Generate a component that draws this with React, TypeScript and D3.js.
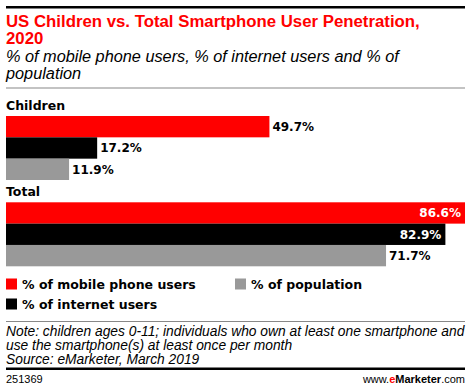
import * as d3 from "d3";

const categories = ["Children", "Total"];
const seriesNames = ["% of mobile phone users", "% of internet users", "% of population"];
const mobileUsers = [49.7, 86.6];
const internetUsers = [17.2, 82.9];
const population = [11.9, 71.7];
const seriesColors = ["#ff0000", "#000000", "#999999"];

const W = 471;
const H = 391;

export default function App() {
  const series = [mobileUsers, internetUsers, population];

  const x = d3.scaleLinear().domain([0, 86.6]).range([6, 465]);
  const groupY = d3.scaleBand().domain(categories).range([116, 116 + 86.3 * 2]);
  const barY = d3.scaleBand().domain(seriesNames).range([0, 64]);

  const fmt = (v: number) => `${d3.format(".1f")(v)}%`;
  const sans = "'Liberation Sans', Arial, sans-serif";
  const boldFont = "'DejaVu Sans', sans-serif";

  const legendPos = [
    { x: 6, y: 284 },
    { x: 6, y: 304 },
    { x: 235, y: 284 },
  ];

  return (
    <div style={{ position: "absolute", left: 0, top: 0 }}>
      <svg width={W} height={H} style={{ display: "block", background: "#fff" }}>
        <rect x={6} y={6} width={459} height={2.5} fill="#000" />
        <text x={6} y={26.5} fill="#ff0000" fontFamily={sans} fontWeight="bold" fontSize={16.8}>
          US Children vs. Total Smartphone User Penetration,
        </text>
        <text x={6} y={43.5} fill="#ff0000" fontFamily={sans} fontWeight="bold" fontSize={16.8}>
          2020
        </text>
        <text x={6} y={62} fill="#000" fontFamily={sans} fontStyle="italic" fontSize={16.3}>
          % of mobile phone users, % of internet users and % of
        </text>
        <text x={6} y={79} fill="#000" fontFamily={sans} fontStyle="italic" fontSize={16.3}>
          population
        </text>
        <rect x={6} y={87.5} width={459} height={1} fill="#888" />

        {categories.map((cat, ci) => {
          const gy = groupY(cat) ?? 0;
          return (
            <g key={cat}>
              <text x={6} y={gy - 6} fontFamily={boldFont} fontWeight="bold" fontSize={12.5} fill="#000">
                {cat}
              </text>
              {seriesNames.map((s, si) => {
                const v = series[si][ci];
                const by = gy + (barY(s) ?? 0);
                const bh = barY.bandwidth();
                const xEnd = x(v);
                const inside = xEnd > 420;
                return (
                  <g key={s}>
                    <rect x={x(0)} y={by} width={xEnd - x(0)} height={bh} fill={seriesColors[si]} />
                    <text
                      x={inside ? xEnd - 4 : xEnd + 3}
                      y={by + bh / 2}
                      dy="0.36em"
                      textAnchor={inside ? "end" : "start"}
                      fill={inside ? "#fff" : "#000"}
                      fontFamily={boldFont}
                      fontWeight="bold"
                      fontSize={12}
                    >
                      {fmt(v)}
                    </text>
                  </g>
                );
              })}
            </g>
          );
        })}

        {seriesNames.map((s, si) => (
          <g key={s} transform={`translate(${legendPos[si].x},${legendPos[si].y})`}>
            <rect x={0} y={-5.5} width={11} height={11} fill={seriesColors[si]} />
            <text x={16} y={0} dy="0.36em" fontFamily={boldFont} fontWeight="bold" fontSize={12.5} fill="#000">
              {s}
            </text>
          </g>
        ))}

        <rect x={6} y={321} width={459} height={1} fill="#888" />
        <text x={6} y={336} fontFamily={sans} fontStyle="italic" fontSize={13.8} fill="#000">
          Note: children ages 0-11; individuals who own at least one smartphone and
        </text>
        <text x={6} y={350} fontFamily={sans} fontStyle="italic" fontSize={13.8} fill="#000">
          use the smartphone(s) at least once per month
        </text>
        <text x={6} y={364} fontFamily={sans} fontStyle="italic" fontSize={13.8} fill="#000">
          Source: eMarketer, March 2019
        </text>
        <rect x={6} y={367.5} width={459} height={2.5} fill="#000" />
        <text x={6} y={383} fontFamily={sans} fontSize={11} fill="#000">
          251369
        </text>
        <text x={465} y={383} textAnchor="end" fontFamily={sans} fontSize={11} fill="#000">
          www.
          <tspan fill="#ff0000" fontWeight="bold">e</tspan>
          <tspan fontWeight="bold">Marketer</tspan>.com
        </text>
      </svg>
    </div>
  );
}
